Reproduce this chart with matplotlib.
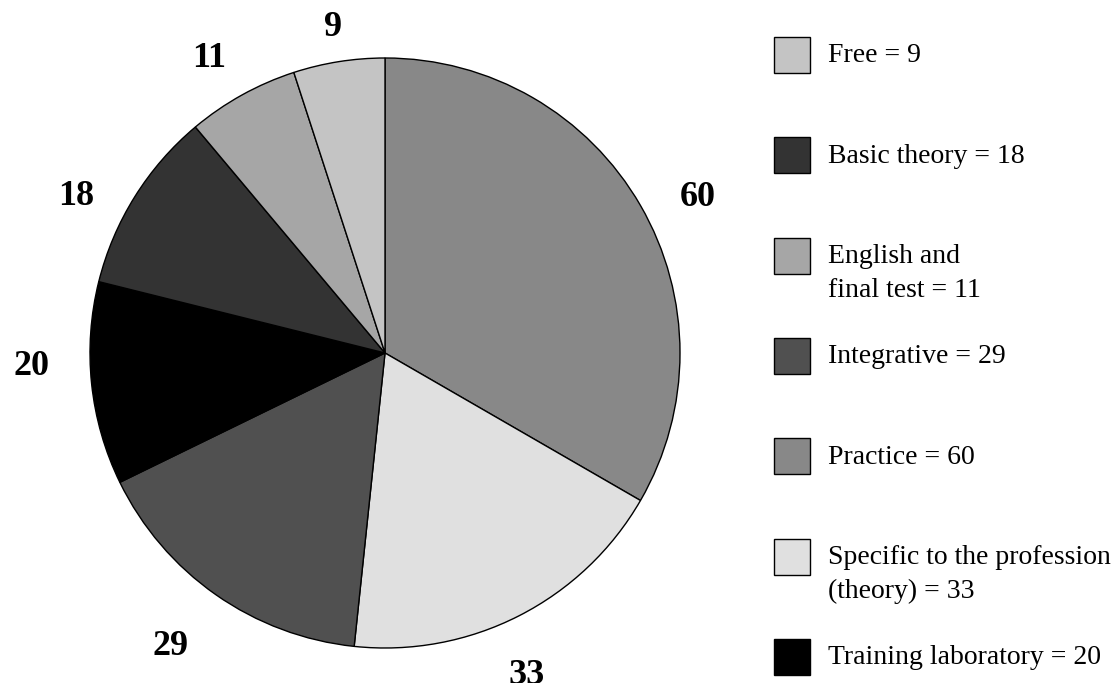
import numpy as np
import matplotlib.pyplot as plt
from matplotlib.patches import Rectangle

plt.rcParams['font.family'] = ['Liberation Serif', 'DejaVu Serif']

# pie slices, clockwise from 12 o'clock
slice_names = ["Practice", "Specific to the profession\n(theory)", "Integrative",
               "Training laboratory", "Basic theory", "English and\nfinal test", "Free"]
slice_values = [60, 33, 29, 20, 18, 11, 9]
slice_colors = ["#888888", "#e0e0e0", "#505050", "#000000", "#333333", "#a6a6a6", "#c4c4c4"]

# legend is in alphabetical order
legend_order = ["Free", "Basic theory", "English and\nfinal test", "Integrative",
                "Practice", "Specific to the profession\n(theory)", "Training laboratory"]

# small hand nudges of the number labels (degrees, radius factor)
lab_turn = [-3, -3, -1.5, -4.5, 4.5, 1.5, 0]
lab_dist = [1.19, 1.18, 1.22, 1.2, 1.18, 1.175, 1.13]

W, H = 1116, 683
fig = plt.figure(figsize=(W / 100, H / 100), dpi=100)

cx, cy, R = 385, 353, 295
ax = fig.add_axes([(cx - R) / W, (H - cy - R) / H, 2 * R / W, 2 * R / H])
wedges, _ = ax.pie(slice_values, colors=slice_colors, startangle=90, counterclock=False,
                   wedgeprops=dict(edgecolor="black", linewidth=1))
for w, v, dt, d in zip(wedges, slice_values, lab_turn, lab_dist):
    ang = np.deg2rad((w.theta1 + w.theta2) / 2 + dt)
    ax.text(d * np.cos(ang), d * np.sin(ang), str(v), ha="center", va="center_baseline",
            fontsize=26, fontweight="bold")
ax.set_xlim(-1, 1)
ax.set_ylim(-1, 1)
ax.set_aspect("equal")
ax.axis("off")

# hand-made legend
lax = fig.add_axes([0, 0, 1, 1])
lax.set_xlim(0, W)
lax.set_ylim(H, 0)
lax.axis("off")
for i, name in enumerate(legend_order):
    yc = 55 + 100.3 * i
    col = slice_colors[slice_names.index(name)]
    val = slice_values[slice_names.index(name)]
    lax.add_patch(Rectangle((774, yc - 18), 36, 36, facecolor=col, edgecolor="black", linewidth=1))
    lines = f"{name} = {val}".split("\n")
    for k, line in enumerate(lines):
        lax.text(828, yc + 7.5 + 34 * k, line, fontsize=20, ha="left", va="baseline")

fig.savefig("out.png", dpi=100)
